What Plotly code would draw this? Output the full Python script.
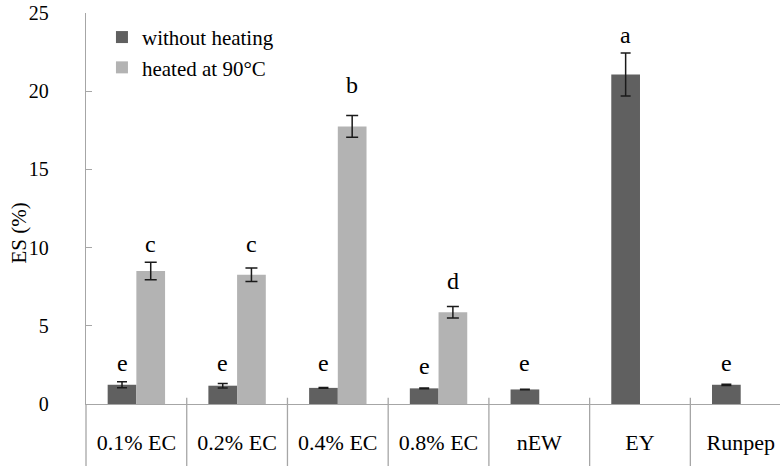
import plotly.graph_objects as go

categories = ["0.1% EC", "0.2% EC", "0.4% EC", "0.8% EC", "nEW", "EY", "Runpep"]
without_heating = [1.23, 1.17, 1.03, 1.00, 0.93, 21.07, 1.23]
without_heating_err = [0.19, 0.14, 0.03, 0.02, 0.02, 1.38, 0.04]
heated_90 = [8.51, 8.26, 17.75, 5.87, None, None, None]
heated_90_err = [0.56, 0.43, 0.70, 0.37, None, None, None]
letters_without = ["e", "e", "e", "e", "e", "a", "e"]
letters_without_y = [2.6, 2.6, 2.6, 2.4, 2.6, 23.6, 2.6]
letters_heated = ["c", "c", "b", "d", None, None, None]
letters_heated_y = [10.25, 10.2, 20.4, 7.85, None, None, None]
y_ticks = [0, 5, 10, 15, 20, 25]

FONT = "Liberation Serif"
DARK = "#606060"
LIGHT = "#b3b3b3"
AXIS = "#a6a6a6"
BARGAP = 0.43

fig = go.Figure()
fig.add_trace(go.Bar(
    name="without heating", x=categories, y=without_heating,
    marker=dict(color=DARK, line=dict(width=0)),
    error_y=dict(type="data", array=without_heating_err, color="#1a1a1a", thickness=1.5, width=5),
))
fig.add_trace(go.Bar(
    name="heated at 90°C", x=categories, y=heated_90,
    marker=dict(color=LIGHT, line=dict(width=0)),
    error_y=dict(type="data", array=heated_90_err, color="#1a1a1a", thickness=1.5, width=6),
))

off = (1 - BARGAP) / 4
annotations = []
for i, (t, yv) in enumerate(zip(letters_without, letters_without_y)):
    if t:
        annotations.append(dict(x=i - off, y=yv, xref="x", yref="y", text=t, showarrow=False,
                                font=dict(family=FONT, size=24, color="black"), yanchor="middle"))
for i, (t, yv) in enumerate(zip(letters_heated, letters_heated_y)):
    if t:
        annotations.append(dict(x=i + off, y=yv, xref="x", yref="y", text=t, showarrow=False,
                                font=dict(family=FONT, size=24, color="black"), yanchor="middle"))
# y-axis title
annotations.append(dict(x=-0.096, y=0.437, xref="paper", yref="paper", text="ES (%)", textangle=-90,
                        showarrow=False, xanchor="center", yanchor="middle",
                        font=dict(family=FONT, size=21, color="black")))

shapes = []
for i in range(len(categories)):
    b = i + 0.5
    shapes.append(dict(type="line", xref="x", yref="paper", x0=b, x1=b, y0=0.016, y1=-0.2,
                       line=dict(color=AXIS, width=1.3)))
shapes.append(dict(type="line", xref="paper", yref="paper", x0=0, x1=0, y0=0, y1=-0.2,
                   line=dict(color=AXIS, width=1.3)))

fig.update_layout(
    width=780, height=466,
    margin=dict(l=86, r=0, t=13, b=62),
    paper_bgcolor="white", plot_bgcolor="white",
    barmode="group", bargap=BARGAP, bargroupgap=0,
    font=dict(family=FONT, size=20, color="black"),
    showlegend=True,
    legend=dict(x=0.023, y=0.99, xanchor="left", yanchor="top", bgcolor="rgba(0,0,0,0)",
                font=dict(family=FONT, size=21), tracegroupgap=0, itemwidth=30),
    annotations=annotations,
    shapes=shapes,
)
fig.update_xaxes(
    type="category", range=[-0.5, 6.39], showline=True, linecolor=AXIS, linewidth=1.3,
    ticks="", showgrid=False, ticklabelstandoff=18, tickfont=dict(family=FONT, size=22),
    ticklabeloverflow="allow",
)
fig.update_yaxes(
    range=[0, 25], tickvals=y_ticks, showline=True, linecolor=AXIS, linewidth=1.3,
    ticks="inside", ticklen=6, tickcolor=AXIS, tickwidth=1.3, showgrid=False, zeroline=False,
    ticklabelstandoff=32, tickfont=dict(family=FONT, size=20), ticklabeloverflow="allow",
)

fig.write_html("out.html", config={"displayModeBar": False},
               post_script="document.body.style.margin='0';document.body.style.overflow='hidden';")
